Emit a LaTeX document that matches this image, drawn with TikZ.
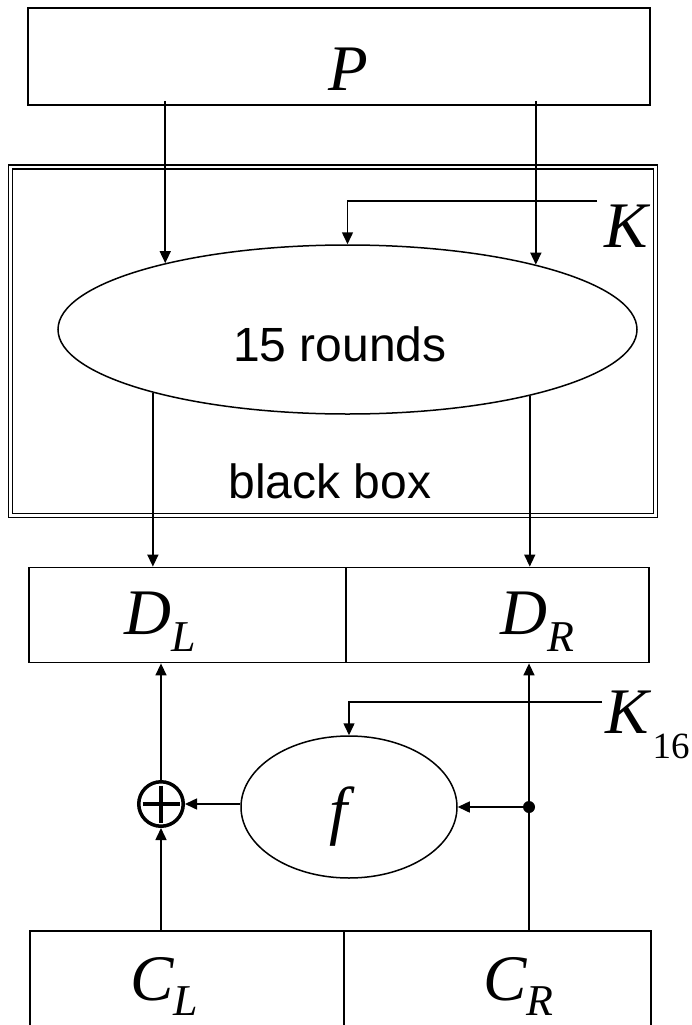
\documentclass[tikz,border=0pt]{standalone}
\usepackage{fontspec}
\setmainfont{Liberation Serif}
\setsansfont{Liberation Sans}
\usetikzlibrary{arrows.meta,shapes.geometric,calc}
\newcommand\mysub[4]{#1\kern#4\raisebox{#3}{\fontsize{44}{44}\selectfont #2}}
\begin{document}
\begin{tikzpicture}[x=1pt,y=-1pt,
  box/.style={draw, line width=1.8pt, inner sep=0, rectangle},
  arr/.style={-{Triangle[length=12pt,width=11pt]}, line width=1.5pt},
  lbl/.style={font=\fontsize{65}{65}\selectfont\itshape, inner sep=0, anchor=base west},
  sanslbl/.style={font=\fontsize{48}{48}\selectfont\sffamily, inner sep=0, anchor=base},
  ell/.style={draw, ellipse, line width=1.5pt, inner sep=0}]
\useasboundingbox (0,0) rectangle (691,1025);
% top box
\node[box, minimum width=622pt, minimum height=97pt] (Pbox) at (339,56.5) {};
\node[lbl] (P) at (328,90) {P};
% black box
\node[draw, double, double distance=2.2pt, line width=1.7pt, inner sep=0,
      minimum width=645pt, minimum height=348.5pt] (BB) at (333,341.25) {};
\node[ell, minimum width=579pt, minimum height=169pt] (R15) at (347.5,329.5) {};
\node[sanslbl] (t15) at (340,361) {15 rounds};
\node[sanslbl] (tbb) at (330,498) {black box};
\draw[arr] ($(R15.160.72 |- Pbox.south)+(0,-5)$) -- (R15.160.72);
\draw[arr] ($(R15.19.28 |- Pbox.south)+(0,-5)$) -- (R15.19.28);
\node[lbl] (K) at (604,247) {K};
\coordinate (Kin) at (597,201);
\draw[arr] (Kin) -| (R15.north);
% D boxes
\node[box, minimum width=317pt, minimum height=95pt] (DL) at (187.5,615) {};
\node[box, minimum width=303pt, minimum height=95pt] (DR) at (497.5,615) {};
\node[lbl] (DLt) at (124,634) {\mysub{D}{L}{-17pt}{0pt}};
\node[lbl] (DRt) at (500,634) {\mysub{D}{R}{-17pt}{0pt}};
\draw[arr] (R15.198.64) -- (R15.198.64 |- DL.north);
\draw[arr] (R15.340.07) -- (R15.340.07 |- DR.north);
% f
\node[ell, minimum width=216pt, minimum height=142pt] (F) at (349,807) {};
\node[font=\fontsize{65}{65}\selectfont\itshape, inner sep=0] (ft) at (339,817) {f};
\node[lbl] (K16) at (605,733) {\mysub{K}{\upshape\fontsize{37}{37}\selectfont 16}{-25pt}{4pt}};
\coordinate (K16in) at (602,702);
\draw[arr] (K16in) -| (F.north);
% xor
\node[circle, draw, line width=3.5pt, minimum size=44.5pt, inner sep=0] (X) at (161,804) {};
\draw[line width=3.5pt] ($(X.center)+(0,-18.5)$) -- ($(X.center)+(0,18.5)$)
                        ($(X.center)+(-18.5,0)$) -- ($(X.center)+(18.5,0)$);
\node[circle, fill, minimum size=12pt, inner sep=0] (dot) at (529,807) {};
% C boxes
\node[box, minimum width=314pt, minimum height=110pt] (CL) at (187,986) {};
\node[box, minimum width=307pt, minimum height=110pt] (CR) at (497.5,986) {};
\node[lbl] (CLt) at (130,1000) {\mysub{C}{L}{-15pt}{0pt}};
\node[lbl] (CRt) at (483,1000) {\mysub{C}{R}{-15pt}{0pt}};
% connectors
\draw[arr] (X) -- (X |- DL.south);
\draw[arr] (X |- CL.north) -- (X);
\draw[arr] (F.west |- X) -- (X);
\draw[arr] (dot) -- (F.east);
\draw[arr] (dot |- CR.north) -- (dot |- DR.south);
\end{tikzpicture}
\end{document}
